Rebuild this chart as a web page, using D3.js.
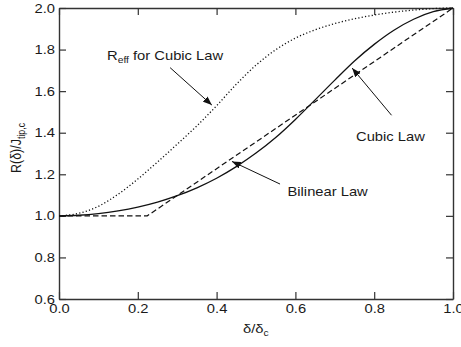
<!DOCTYPE html>
<html>
<head>
<meta charset="utf-8">
<script src="https://cdn.jsdelivr.net/npm/d3@7"></script>
<style>
  html, body { margin: 0; padding: 0; background: #fff; }
  svg { display: block; }
  text { font-family: "Liberation Sans", Arial, Helvetica, sans-serif; fill: #1a1a1a; }
</style>
</head>
<body>
<svg id="chart" width="461" height="347"></svg>
<script>
// Normalised opening δ/δc
const delta = [0, 0.05, 0.10, 0.15, 0.20, 0.25, 0.30, 0.35, 0.40, 0.45, 0.50,
               0.55, 0.60, 0.65, 0.70, 0.75, 0.80, 0.85, 0.90, 0.95, 1.00];

// R(δ)/J_tip,c for the cubic traction law
const cubicLaw = [1.000, 1.003, 1.011, 1.024, 1.042, 1.066, 1.097, 1.135, 1.181, 1.237, 1.302,
                  1.377, 1.464, 1.558, 1.653, 1.745, 1.825, 1.893, 1.946, 1.982, 2.000];

// Effective resistance R_eff for the cubic law
const effCubic = [1.000, 1.012, 1.046, 1.104, 1.177, 1.259, 1.345, 1.433, 1.530, 1.633, 1.725,
                  1.799, 1.855, 1.895, 1.925, 1.948, 1.966, 1.980, 1.990, 1.997, 2.000];

// Bilinear law: flat, then linear up to 2.0
const bilinearDelta = [0, 0.224, 1.0];
const bilinearLaw   = [1.0, 1.0, 2.0];

const xTicks = [0, 0.2, 0.4, 0.6, 0.8, 1.0];
const yTicks = [0.6, 0.8, 1.0, 1.2, 1.4, 1.6, 1.8, 2.0];

const margin = { left: 59, right: 8, top: 8, bottom: 48 };
const W = 461, H = 347;
const SX = 1.18;        // horizontal glyph stretch
const FS = 12.5;

const svg = d3.select("#chart");
svg.append("rect").attr("width", W).attr("height", H).attr("fill", "#fff");

const x = d3.scaleLinear().domain([0, 1]).range([margin.left, W - margin.right]);
const y = d3.scaleLinear().domain([0.6, 2.0]).range([H - margin.bottom, margin.top]);

const fmt = d3.format(".1f");
const axisColor = "#333";

function styleAxis(g, labels) {
  g.select(".domain").attr("stroke", axisColor).attr("stroke-width", 1.4);
  g.selectAll(".tick line").attr("stroke", axisColor).attr("stroke-width", 1.2);
  if (!labels) g.selectAll(".tick text").remove();
  g.selectAll(".tick text")
    .attr("font-size", FS)
    .attr("font-family", null)
    .attr("fill", "#1a1a1a")
    .each(function () {
      const t = d3.select(this);
      const tx = +t.attr("x") || 0;
      t.attr("x", tx / SX).attr("transform", `scale(${SX},1)`);
    });
}

// Bottom axis
svg.append("g")
  .attr("transform", `translate(0,${y(0.6)})`)
  .call(d3.axisBottom(x).tickValues(xTicks).tickFormat(fmt)
        .tickSizeInner(-7).tickSizeOuter(0).tickPadding(5))
  .call(g => styleAxis(g, true));

// Top axis (ticks only)
svg.append("g")
  .attr("transform", `translate(0,${y(2.0)})`)
  .call(d3.axisTop(x).tickValues(xTicks).tickSizeInner(-7).tickSizeOuter(0))
  .call(g => styleAxis(g, false));

// Left axis
svg.append("g")
  .attr("transform", `translate(${x(0)},0)`)
  .call(d3.axisLeft(y).tickValues(yTicks).tickFormat(fmt)
        .tickSizeInner(-7).tickSizeOuter(0).tickPadding(4))
  .call(g => styleAxis(g, true));

// Right axis (ticks only)
svg.append("g")
  .attr("transform", `translate(${x(1)},0)`)
  .call(d3.axisRight(y).tickValues(yTicks).tickSizeInner(-7).tickSizeOuter(0))
  .call(g => styleAxis(g, false));

// Curves
const smooth = d3.line().x(d => x(d[0])).y(d => y(d[1])).curve(d3.curveMonotoneX);
const straight = d3.line().x(d => x(d[0])).y(d => y(d[1]));

const plot = svg.append("g");

plot.append("path")
  .datum(delta.map((d, i) => [d, effCubic[i]]))
  .attr("d", smooth)
  .attr("fill", "none").attr("stroke", "#111").attr("stroke-width", 1.3)
  .attr("stroke-dasharray", "1.2,2.2");

plot.append("path")
  .datum(bilinearDelta.map((d, i) => [d, bilinearLaw[i]]))
  .attr("d", straight)
  .attr("fill", "none").attr("stroke", "#111").attr("stroke-width", 1.2)
  .attr("stroke-dasharray", "5.5,3");

plot.append("path")
  .datum(delta.map((d, i) => [d, cubicLaw[i]]))
  .attr("d", smooth)
  .attr("fill", "none").attr("stroke", "#111").attr("stroke-width", 1.3);

// Arrowhead marker
svg.append("defs").append("marker")
  .attr("id", "head")
  .attr("markerUnits", "userSpaceOnUse")
  .attr("markerWidth", 9).attr("markerHeight", 7)
  .attr("refX", 9).attr("refY", 3.5)
  .attr("orient", "auto")
  .append("path").attr("d", "M0,0 L9,3.5 L0,7 Z").attr("fill", "#111");

// Annotations: [fromδ, fromR, toδ, toR]
const arrows = [
  [0.282, 1.713, 0.388, 1.533],
  [0.561, 1.153, 0.439, 1.262],
  [0.844, 1.484, 0.744, 1.711]
];
svg.append("g").selectAll("line").data(arrows).join("line")
  .attr("x1", d => x(d[0])).attr("y1", d => y(d[1]))
  .attr("x2", d => x(d[2])).attr("y2", d => y(d[3]))
  .attr("stroke", "#111").attr("stroke-width", 1)
  .attr("marker-end", "url(#head)");

function label(px, py, parts) {
  const t = svg.append("text")
    .attr("transform", `translate(${px},${py}) scale(${SX},1)`)
    .attr("font-size", FS);
  parts.forEach(p => {
    const s = t.append("tspan").text(p.text);
    if (p.sub) s.attr("font-size", FS * 0.7).attr("dy", 3);
    if (p.after) s.attr("dy", -3);
  });
  return t;
}

label(107, 60, [{ text: "R" }, { text: "eff", sub: true }, { text: " for Cubic Law", after: true }]);
label(287.5, 196, [{ text: "Bilinear Law" }]);
label(356, 141, [{ text: "Cubic Law" }]);

// Axis titles
label(243, 333, [{ text: "δ/δ" }, { text: "c", sub: true }]);

const yt = svg.append("text")
  .attr("transform", `translate(21,148) scale(${SX},1) rotate(-90)`)
  .attr("text-anchor", "middle")
  .attr("font-size", FS);
yt.append("tspan").text("R(δ)/J");
yt.append("tspan").text("tip,c").attr("font-size", FS * 0.7).attr("dy", 3);
</script>
</body>
</html>
